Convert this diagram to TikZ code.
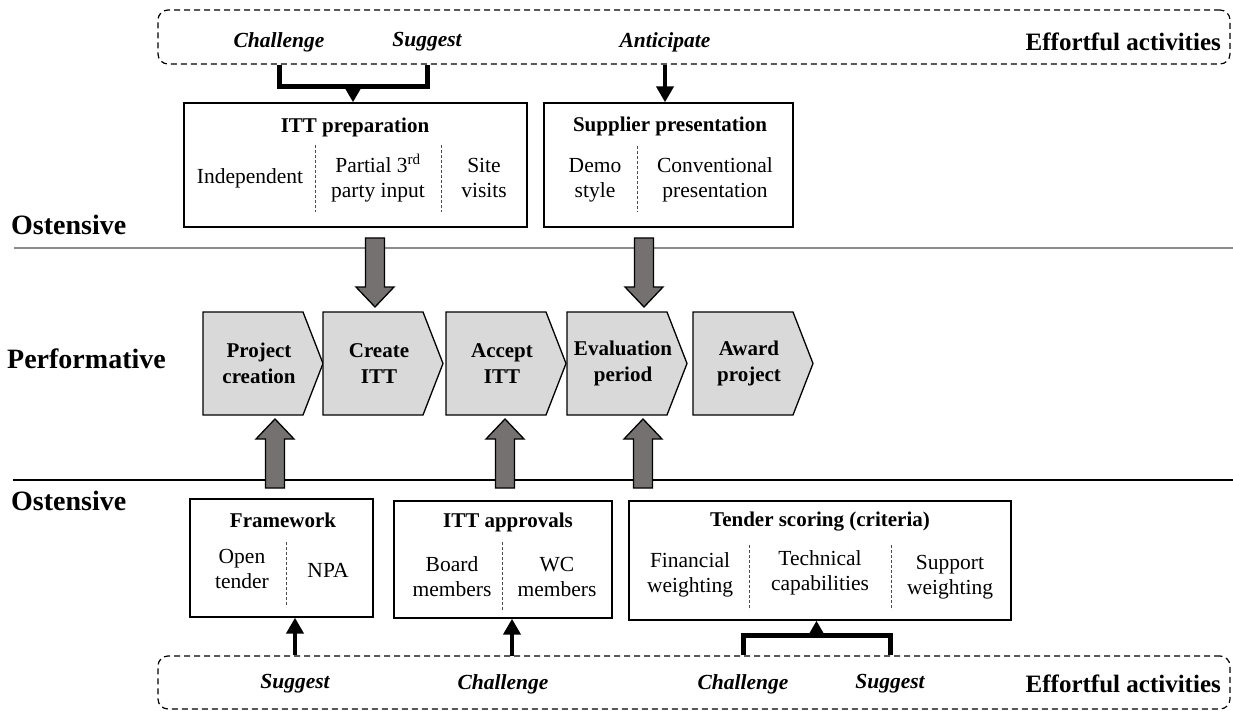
\documentclass[tikz,border=0pt]{standalone}
\usepackage{fontspec}
\setmainfont{Liberation Serif}
\usetikzlibrary{arrows.meta,calc}
\definecolor{chevfill}{HTML}{D9D9D9}
\definecolor{fatfill}{HTML}{767171}
\definecolor{rulegray}{HTML}{8C8C8C}

\begin{document}
\begin{tikzpicture}[x=1pt,y=-1pt,
  box/.style={draw, line width=1.4pt, inner sep=0pt},
  band/.style={draw, dash pattern=on 6pt off 4pt, line width=1.2pt, rounded corners=10pt, inner sep=0pt},
  title/.style={font=\fontsize{21}{24}\selectfont\bfseries, inner sep=0pt},
  item/.style={font=\fontsize{21.5}{25}\selectfont, align=center, inner sep=0pt},
  act/.style={font=\fontsize{21.5}{24}\selectfont\bfseries\itshape, inner sep=0pt},
  layer/.style={font=\fontsize{28}{32}\selectfont\bfseries, anchor=west, inner sep=0pt},
  effort/.style={font=\fontsize{25}{28}\selectfont\bfseries, anchor=east, inner sep=0pt},
  chev/.style={draw, line width=1.3pt, fill=chevfill, line join=miter},
  chevtext/.style={font=\fontsize{21}{26}\selectfont\bfseries, align=center, inner sep=0pt},
  divider/.style={draw=black!70, dash pattern=on 3pt off 2pt, line width=0.7pt},
  thinarrow/.style={line width=4.5pt, -{Triangle[length=16pt,width=17pt]}},
  bracket/.style={line width=5pt},
  fat/.style={draw, line width=1.3pt, fill=fatfill, line join=miter},
  fatdown/.pic={\draw[fat] (-9.5,0) -- (9.5,0) -- (9.5,49) -- (19,49) -- (0,69) -- (-19,49) -- (-9.5,49) -- cycle;},
  fatup/.pic={\draw[fat] (-9.5,0) -- (9.5,0) -- (9.5,-49) -- (19,-49) -- (0,-69) -- (-19,-49) -- (-9.5,-49) -- cycle;},
]
\useasboundingbox (0,0) rectangle (1233,711);

% layer separators
\coordinate (r1a) at (14,248);  \coordinate (r1b) at (1233,248);
\coordinate (r2a) at (13,480);  \coordinate (r2b) at (1233,480);
\draw[rulegray, line width=1.6pt] (r1a) -- (r1b);
\draw[line width=1.2pt] (r2a) -- (r2b);

% layer labels
\node[layer] (ost1) at (11,225) {Ostensive};
\node[layer] (perf) at (7,359) {Performative};
\node[layer] (ost2) at (11,501) {Ostensive};

% effortful activity bands
\node[band, minimum width=1072pt, minimum height=54pt] (topband) at (694,37) {};
\node[band, minimum width=1072pt, minimum height=53pt] (botband) at (694,682.5) {};
\node[effort] (eff1) at (1221,42) {Effortful activities};
\node[effort] (eff2) at (1221,684) {Effortful activities};

\node[act] (ch1) at (279,42) {Challenge};
\node[act] (sg1) at (427,42) {Suggest};
\node[act] (an1) at (665,42) {Anticipate};
\node[act] (sg2) at (295,684) {Suggest};
\node[act] (ch2) at (503,684) {Challenge};
\node[act] (ch3) at (743,684) {Challenge};
\node[act] (sg3) at (890,684) {Suggest};

% upper ostensive boxes
\node[box, minimum width=343pt, minimum height=124pt] (itt) at (355.5,165) {};
\node[title] (ittT) at (355,127) {ITT preparation};
\node[item] (itt1) at (250,178) {Independent};
\node[item] (itt2) at (378,178) {Partial 3\textsuperscript{rd}\\party input};
\node[item] (itt3) at (484,178) {Site\\visits};
\draw[divider] (315,145) -- (315,212);
\draw[divider] (441,145) -- (441,212);

\node[box, minimum width=249pt, minimum height=124pt] (sup) at (668.5,165) {};
\node[title] (supT) at (670,126) {Supplier presentation};
\node[item] (sup1) at (595,180) {Demo\\style};
\node[item] (sup2) at (715,180) {Conventional\\presentation};
\draw[divider] (637,146) -- (637,212);

% lower ostensive boxes
\node[box, minimum width=183pt, minimum height=118pt] (fw) at (281.5,558) {};
\node[title] (fwT) at (283,520) {Framework};
\node[item] (fw1) at (242,569) {Open\\tender};
\node[item] (fw2) at (328,570) {NPA};
\draw[divider] (286,542) -- (286,607);

\node[box, minimum width=218pt, minimum height=117pt] (appr) at (503,559.5) {};
\node[title] (apprT) at (508,522) {ITT approvals};
\node[item] (appr1) at (452,577) {Board\\members};
\node[item] (appr2) at (557,577) {WC\\members};
\draw[divider] (502,542) -- (502,610);

\node[box, minimum width=382pt, minimum height=119pt] (tender) at (820,560.5) {};
\node[title] (tenT) at (820,522) {Tender scoring (criteria)};
\node[item] (ten1) at (690,575) {Financial\\weighting};
\node[item] (ten2) at (820,573) {Technical\\capabilities};
\node[item] (ten3) at (950,577) {Support\\weighting};
\draw[divider] (749,545) -- (749,610);
\draw[divider] (891,545) -- (891,610);

% performative process chain
\foreach \n/\xl/\txt in {1/203/{Project\\creation},2/323/{Create\\ITT},3/446/{Accept\\ITT},4/567/{Evaluation\\period},5/693/{Award\\project}}{
  \draw[chev] (\xl,312) -- ++(100,0) -- ++(20,51.5) -- ++(-20,51.5) -- ++(-100,0) -- cycle;
  \node[chevtext] (c\n) at (\xl+56,363.5) {\txt};
}

% influence of ostensive aspects on performances
\pic at (375,238) {fatdown};
\pic at (644,238) {fatdown};
\pic at (275,488) {fatup};
\pic at (505,488) {fatup};
\pic at (643,488) {fatup};

% effortful activities acting on the ostensive boxes
\draw[bracket] (ch1 |- topband.south) -- ++(0,22) -| (sg1 |- topband.south);
\coordinate (tbm) at ($(ch1 |- topband.south)!0.5!(sg1 |- topband.south)+(0,22)$);
\draw[thinarrow] (tbm) -- (tbm |- itt.north);
\draw[thinarrow] (an1 |- topband.south) -- (an1 |- sup.north);

\draw[thinarrow] (sg2 |- botband.north) -- (sg2 |- fw.south);
\coordinate (cap) at (512,656);
\draw[thinarrow] (cap) -- (cap |- appr.south);

\draw[bracket] (ch3 |- botband.north) -- ++(0,-20) -| (sg3 |- botband.north);
\coordinate (bbm) at ($(ch3 |- botband.north)!0.5!(sg3 |- botband.north)+(0,-20)$);
\draw[thinarrow] (bbm) -- (bbm |- tender.south);
\end{tikzpicture}
\end{document}
